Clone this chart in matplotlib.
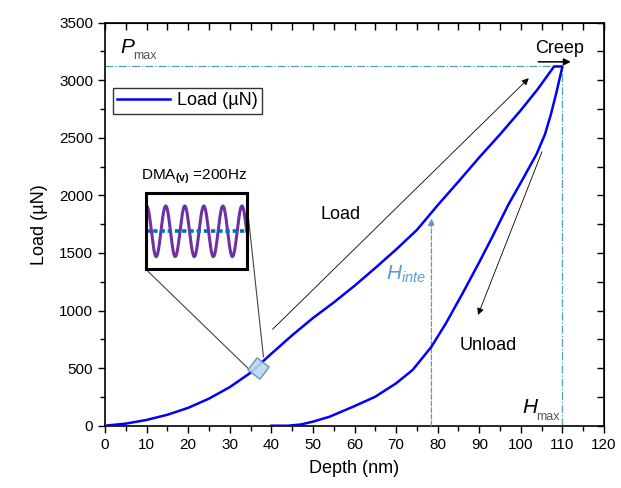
import numpy as np
import matplotlib
matplotlib.use("Agg")
import matplotlib.pyplot as plt

plt.rcParams['font.family'] = ['Liberation Sans', 'DejaVu Sans']
plt.rcParams['mathtext.fontset'] = 'custom'
plt.rcParams['mathtext.rm'] = 'Liberation Sans'
plt.rcParams['mathtext.it'] = 'Liberation Sans:italic'
plt.rcParams['mathtext.bf'] = 'Liberation Sans:bold'

# ---- data ----
load_depth = [0, 5, 10, 15, 20, 25, 30, 35, 40, 45, 50, 55, 60, 65, 70, 75,
              78.5, 80, 85, 90, 95, 100, 104, 108]
load_values = [0, 18, 50, 95, 155, 235, 335, 460, 625, 785, 935, 1070, 1215,
               1370, 1530, 1700, 1850, 1915, 2120, 2330, 2530, 2740, 2920, 3120]
creep_depth = [108, 110]
creep_values = [3120, 3120]
unload_depth = [110, 108.6, 107.2, 105.8, 103.8, 100.6, 97, 93, 90, 86, 82,
                78.5, 74, 70, 65, 60, 54, 50, 47, 44, 40]
unload_values = [3120, 2900, 2700, 2530, 2360, 2150, 1920, 1630, 1420, 1150,
                 890, 686, 485, 368, 252, 170, 78, 35, 10, 0, 0]

p_max = 3120
h_max = 110
h_inte = 78.5
h_inte_load = 1800
dma_point = (36.8, 505)

x_ticks = list(range(0, 121, 10))
y_ticks = list(range(0, 3501, 500))

depth = load_depth + creep_depth[1:] + unload_depth[1:]
load = load_values + creep_values[1:] + unload_values[1:]

fig = plt.figure(figsize=(6.21, 4.88), dpi=100)
ax = fig.add_axes([105/621, 62.3/488, 499/621, 403/488])

ax.plot(depth, load, color='#0000ff', lw=1.8, label='Load (µN)', zorder=4)

ax.set_xlim(0, 120)
ax.set_ylim(0, 3500)
ax.set_xticks(x_ticks)
ax.set_yticks(y_ticks)
ax.set_xticks(np.arange(5, 120, 10), minor=True)
ax.set_yticks(np.arange(250, 3500, 500), minor=True)
ax.tick_params(axis='both', which='both', direction='out', labelsize=11,
               width=1.0, top=False, right=False)
ax.tick_params(which='major', length=5)
ax.tick_params(which='minor', length=3.5)
for s in ax.spines.values():
    s.set_linewidth(1.2)

axt = ax.secondary_xaxis('top')
axt.set_xticks(np.arange(0, 121, 5))
axt.tick_params(direction='in', length=5, labeltop=False, width=1.0)
axr = ax.secondary_yaxis('right')
axr.set_yticks(np.arange(0, 3501, 250))
axr.tick_params(direction='in', length=5, labelright=False, width=1.0)

ax.set_xlabel('Depth (nm)', fontsize=13, labelpad=6)
ax.set_ylabel('Load (µN)', fontsize=13, labelpad=8)

teal = '#4aa5a8'
ax.plot([0, h_max], [p_max, p_max], color=teal, lw=0.9, ls='-.', zorder=2)
ax.plot([h_max, h_max], [0, p_max], color=teal, lw=0.9, ls='-.', zorder=2)

hcol = '#5b9bd5'
ax.annotate('', xy=(h_inte, h_inte_load), xytext=(h_inte, 0),
            arrowprops=dict(arrowstyle='-|>', color=hcol, lw=0.9, ls='--',
                            mutation_scale=10, shrinkA=0, shrinkB=0))
ax.text(67.5, 1265, r'$H_{inte}$', color=hcol, fontsize=15, ha='left',
        va='baseline')

ax.text(3.6, 3237, 'P', fontsize=15, style='italic', va='baseline')
ax.text(6.8, 3188, 'max', fontsize=9, color='#555555', va='baseline')
ax.text(100.3, 110, 'H', fontsize=15, style='italic', va='baseline')
ax.text(103.7, 48, 'max', fontsize=9, color='#555555', va='baseline')

ax.text(109.3, 3275, 'Creep', fontsize=13, ha='center', va='center')
ax.annotate('', xy=(112.0, 3160), xytext=(104.2, 3160),
            arrowprops=dict(arrowstyle='-|>', color='black', lw=1.1,
                            mutation_scale=10, shrinkA=0, shrinkB=0))

ax.annotate('', xy=(101.9, 3018), xytext=(40.3, 837),
            arrowprops=dict(arrowstyle='-|>', color='black', lw=0.6,
                            mutation_scale=10, shrinkA=0, shrinkB=0))
ax.text(56.7, 1831, 'Load', fontsize=13, ha='center', va='center')
ax.annotate('', xy=(89.7, 962), xytext=(105.1, 2380),
            arrowprops=dict(arrowstyle='-|>', color='black', lw=0.6,
                            mutation_scale=10, shrinkA=0, shrinkB=0))
ax.text(92.2, 700, 'Unload', fontsize=13, ha='center', va='center')

ax.plot([dma_point[0]], [dma_point[1]], marker=(4, 0, 8), ms=15.5,
        mfc='#bdd7ee', mec='#5b8db8', mew=1.0, zorder=5, alpha=0.9)

ax.plot([10.0, 34.4], [1352, 498], color='#444444', lw=0.8, zorder=3)
ax.plot([34.1, 38.1], [1937, 599], color='#444444', lw=0.8, zorder=3)

ax.text(21.3, 2160, r'DMA$_{\mathbf{(v)}}$ =200Hz', fontsize=11,
        ha='center', va='center')

legend = ax.legend(loc='upper left', bbox_to_anchor=(0.016, 0.838),
                   borderaxespad=0, fontsize=13, frameon=True, fancybox=False,
                   handlelength=2.9, handletextpad=0.4, borderpad=0.25)
legend.get_frame().set_edgecolor('black')
legend.get_frame().set_linewidth(1.0)

# inset schematic of the oscillation
ins = fig.add_axes([145.7/621, (488-269.3)/488, 101/621, 76/488])
periods = 5.3
t = np.linspace(0, periods, 400)
ins.plot(t, np.cos(2*np.pi*(t - 0.05)), color='#7030a0', lw=2.2)
ins.axhline(0, color='#0070c0', lw=2.6, ls=(0, (1.2, 0.8)))
ins.set_xlim(0, periods)
ins.set_ylim(-1.5, 1.5)
ins.set_xticks([])
ins.set_yticks([])
for s in ins.spines.values():
    s.set_linewidth(2.2)

fig.savefig('out.png', dpi=100)
